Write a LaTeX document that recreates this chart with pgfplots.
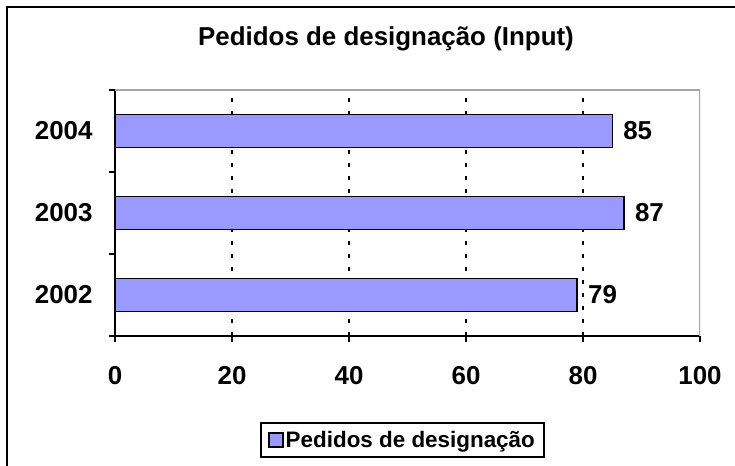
\documentclass[border=0pt]{standalone}
\usepackage{fontspec}
\setmainfont{Liberation Sans}
\usepackage{pgfplots}
\pgfplotsset{compat=1.18}
\definecolor{barblue}{HTML}{9999FF}
\begin{document}
\begin{tikzpicture}[x=1bp,y=1bp]
\useasboundingbox (0,0) rectangle (735,466);
\draw[line width=2bp] (7,-2) -- (7,459) -- (737,459);
\node[font=\bfseries\fontsize{26}{30}\selectfont, anchor=base, inner sep=0pt] at (386,420) {Pedidos de designação (Input)};
\begin{axis}[
  at={(115bp,130bp)}, anchor=south west,
  scale only axis, width=585bp, height=246bp,
  xbar, xmin=0, xmax=100, ymin=0.5, ymax=3.5,
  bar width=0.4,
  xtick={0,20,...,100},
  ytick={0.5,1.5,2.5,3.5}, yticklabels={},
  extra y ticks={1,2,3}, extra y tick labels={2002,2003,2004},
  extra y tick style={major tick length=0pt, yticklabel style={xshift=-19bp}},
  extra x ticks={20,40,60,80}, extra x tick labels={},
  extra x tick style={grid=major},
  major grid style={black, line width=2.5bp, dash pattern=on 4bp off 9bp},
  axis x line*=bottom, axis y line*=left,
  axis line style={line width=2bp,-},
  tick align=outside,
  major tick length=6bp,
  tick style={black, line width=2bp},
  ticklabel style={font=\bfseries\fontsize{26}{30}\selectfont},
  xticklabel style={yshift=-21bp},
  /pgf/number format/assume math mode=true,
  point meta=x,
  nodes near coords,
  nodes near coords align={horizontal},
  every node near coord/.append style={font=\bfseries\fontsize{26}{30}\selectfont, anchor=west, xshift=7bp, black},
  legend style={at={(0.4915,-0.423)}, anchor=center, draw=black, line width=2bp,
     font=\bfseries\fontsize{22.5}{26}\selectfont, inner xsep=7bp, inner ysep=6bp},
  legend image code/.code={\draw[#1, line width=1.5bp] (0bp,-7bp) rectangle (14bp,7bp);},
]
\addplot[fill=barblue, draw=black, line width=1.5bp] coordinates {(79,1) (87,2) (85,3)};
\addlegendentry{Pedidos de designação}
\draw[gray!70, line width=1.5bp] (rel axis cs:0,1) -- (rel axis cs:1,1) -- (rel axis cs:1,0);
\end{axis}
\end{tikzpicture}
\end{document}
